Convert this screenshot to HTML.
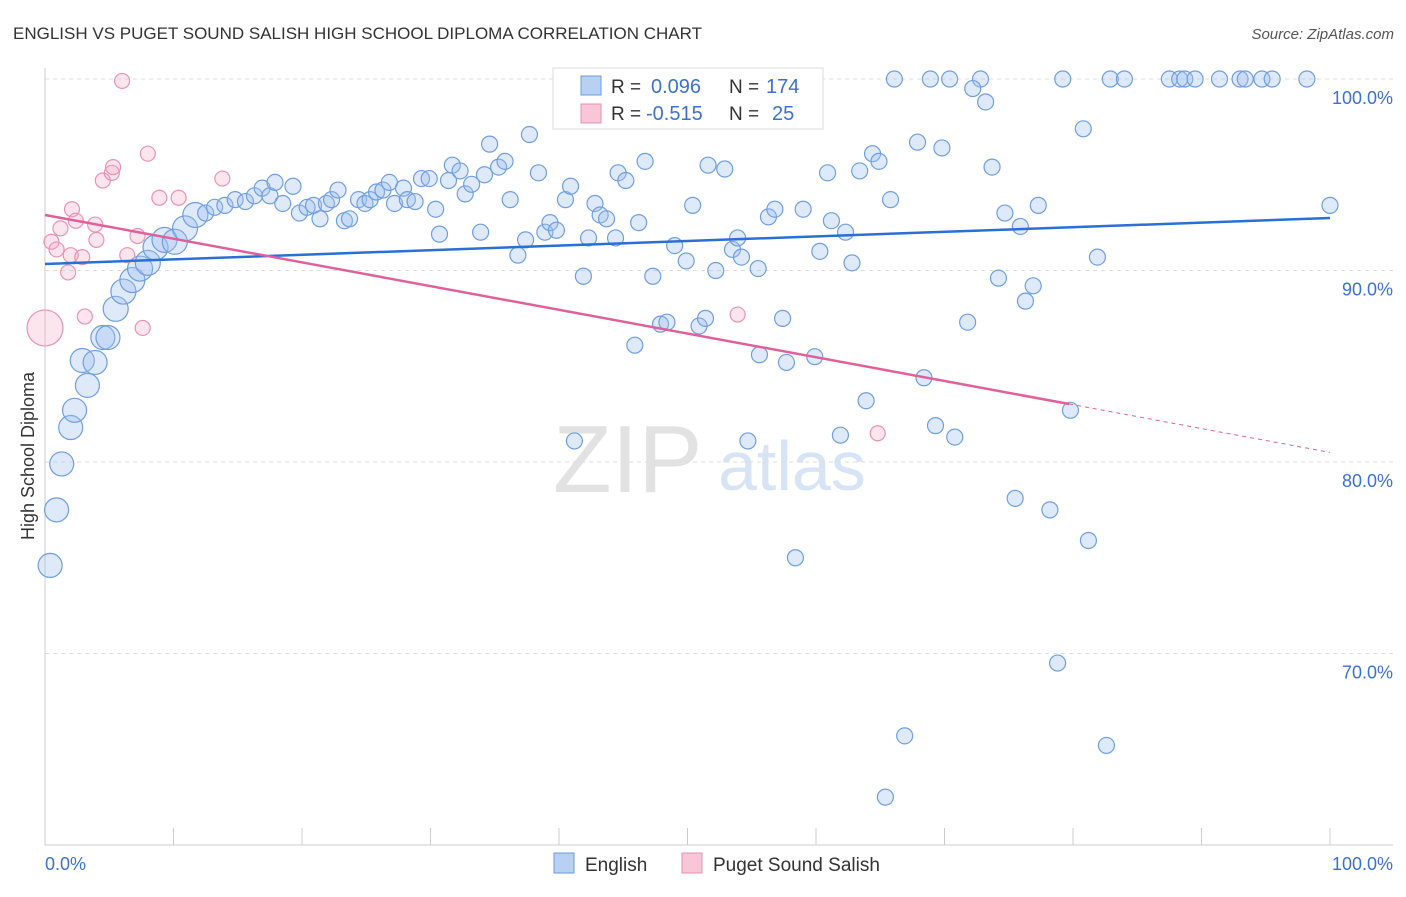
<!DOCTYPE html>
<html><head><meta charset="utf-8"><style>
body{margin:0;background:#fff;font-family:"Liberation Sans",sans-serif;}
svg text{font-family:"Liberation Sans",sans-serif;}
</style></head><body>
<svg id="c" width="1406" height="892" xmlns="http://www.w3.org/2000/svg">
<text x="13" y="39" font-size="17" fill="#333">ENGLISH VS PUGET SOUND SALISH HIGH SCHOOL DIPLOMA CORRELATION CHART</text>
<text x="1394" y="39" font-size="15" fill="#555" text-anchor="end" font-style="italic">Source: ZipAtlas.com</text>
<g>
<text x="553" y="492" font-size="96" fill="#e2e2e2" font-family="Liberation Serif, serif">ZIP</text>
<text x="718" y="490" font-size="70" fill="#d6e4f5">atlas</text>
</g>
<g id="grid"></g>
<g id="axes"></g>
<g id="pts"></g>
<g id="trends"></g>
<text transform="translate(34,456) rotate(-90)" font-size="18" fill="#333" text-anchor="middle">High School Diploma</text>
<text x="45" y="870" font-size="18" fill="#3a72d0">0.0%</text>
<text x="1393" y="870" font-size="18" fill="#3a72d0" text-anchor="end">100.0%</text>
<g>
<rect x="553" y="68" width="270" height="61" fill="#fff" stroke="#ddd"/>
<rect x="581" y="76" width="20" height="19" fill="#b8d0f2" stroke="#6a9be0"/>
<rect x="581" y="104" width="20" height="19" fill="#f8c6d6" stroke="#e890b0"/>
<text x="611" y="93" font-size="19" fill="#333">R = </text><text x="651" y="93" font-size="20" fill="#3a72d0">0.096</text>
<text x="729" y="93" font-size="19" fill="#333">N = </text><text x="766" y="93" font-size="20" fill="#3a72d0">174</text>
<text x="611" y="120" font-size="19" fill="#333">R = </text><text x="646" y="120" font-size="20" fill="#3a72d0">-0.515</text>
<text x="729" y="120" font-size="19" fill="#333">N = </text><text x="772" y="120" font-size="20" fill="#3a72d0">25</text>
</g>
<g>
<rect x="554" y="853" width="20" height="20" fill="#b8d0f2" stroke="#6a9be0"/>
<text x="585" y="871" font-size="19" fill="#333">English</text>
<rect x="682" y="853" width="20" height="20" fill="#f8c6d6" stroke="#e890b0"/>
<text x="713" y="871" font-size="19" fill="#333">Puget Sound Salish</text>
</g>
</svg>
<script>
const yTicks=[100,90,80,70];
const yTickLabels=["100.0%","90.0%","80.0%","70.0%"];
const xTicks=[0,10,20,30,40,50,60,70,80,90,100];
const engX=[66.1,68.9,70.4,72.8,79.2,82.9,84.0,87.5,88.3,88.7,89.5,91.4,93.0,93.4,94.7,95.5,98.2,72.2,73.2,80.8,0.4,0.9,1.3,2.0,2.3,3.3,2.9,3.9,4.5,4.9,5.5,6.1,6.8,7.4,8.0,8.6,9.3,10.1,10.9,11.7,12.5,13.2,14.0,14.8,15.6,16.3,16.9,17.5,17.9,18.5,19.3,19.8,20.4,20.9,21.4,21.9,22.3,22.8,23.3,23.7,24.4,24.9,25.3,25.8,26.3,26.8,27.2,27.9,28.2,28.8,29.3,29.9,30.4,30.7,31.4,31.7,32.3,32.7,33.2,33.9,34.2,34.6,35.3,35.8,36.2,36.8,37.4,37.7,38.4,38.9,39.3,39.8,40.5,40.9,41.2,41.9,42.3,42.8,43.2,43.7,44.4,44.6,45.2,45.9,46.2,46.7,47.3,47.9,48.4,49.0,49.4,49.9,50.4,50.9,51.4,51.6,52.2,52.9,53.5,53.9,54.2,54.7,55.5,55.6,56.3,56.8,57.4,57.7,58.4,59.0,59.4,59.9,60.3,60.9,61.2,61.9,62.3,62.8,63.4,63.9,64.4,64.9,65.4,65.8,66.9,67.9,68.4,69.3,69.8,70.8,71.8,73.7,74.2,74.7,75.5,75.9,76.3,76.9,77.3,78.2,78.8,79.8,81.2,81.9,82.6,100];
const engY=[100,100,100,100,100,100,100,100,100,100,100,100,100,100,100,100,100,99.5,98.8,97.4,74.6,77.5,79.9,81.8,82.7,84.0,85.3,85.2,86.5,86.5,88.0,88.9,89.5,90.1,90.4,91.2,91.6,91.5,92.2,92.9,93.0,93.3,93.4,93.7,93.6,93.9,94.3,93.9,94.6,93.5,94.4,93.0,93.3,93.4,92.7,93.5,93.7,94.2,92.6,92.7,93.7,93.5,93.7,94.1,94.2,94.6,93.5,94.3,93.7,93.6,94.8,94.8,93.2,91.9,94.7,95.5,95.2,94.0,94.5,92.0,95.0,96.6,95.4,95.7,93.7,90.8,91.6,97.1,95.1,92.0,92.5,92.1,93.7,94.4,81.1,89.7,91.7,93.5,92.9,92.7,91.7,95.1,94.7,86.1,92.5,95.7,89.7,87.2,87.3,91.3,98.0,90.5,93.4,87.1,87.5,95.5,90.0,95.3,91.1,91.7,90.7,81.1,90.1,85.6,92.8,93.2,87.5,85.2,75.0,93.2,98.0,85.5,91.0,95.1,92.6,81.4,92.0,90.4,95.2,83.2,96.1,95.7,62.5,93.7,65.7,96.7,84.4,81.9,96.4,81.3,87.3,95.4,89.6,93.0,78.1,92.3,88.4,89.2,93.4,77.5,69.5,82.7,75.9,90.7,65.2,93.4];
const engBig=[0.4,0.9,1.3,2.0,2.3,3.3,2.9,3.9,4.5,4.9,5.5,6.1,6.8,7.4,8.0,8.6,9.3,10.1,10.9,11.7];
const pugX=[0,0.5,0.9,1.2,1.8,2.0,2.1,2.4,2.9,3.1,3.9,4.0,4.5,5.2,5.3,6.0,6.4,7.2,7.6,8.0,8.9,10.4,13.8,53.9,64.8];
const pugY=[87.0,91.5,91.1,92.2,89.9,90.8,93.2,92.6,90.7,87.6,92.4,91.6,94.7,95.1,95.4,99.9,90.8,91.8,87.0,96.1,93.8,93.8,94.8,87.7,81.5];
const engTrend=[90.34,92.74];
const pugTrend=[92.9,83.03,80.5];
const pugSolidEnd=79.7;

const X0=45,X1=1330,Y100=79,PPU=19.15;
const sx=v=>X0+(X1-X0)*v/100;
const sy=v=>Y100+(100-v)*PPU;
const NS="http://www.w3.org/2000/svg";
function mk(t,a,p){const e=document.createElementNS(NS,t);for(const k in a)e.setAttribute(k,a[k]);p.appendChild(e);return e;}
const grid=document.getElementById('grid'),axes=document.getElementById('axes'),pts=document.getElementById('pts'),tr=document.getElementById('trends');
yTicks.forEach((t,i)=>{
 const l=mk('line',{x1:45,x2:1393,y1:sy(t),y2:sy(t),stroke:'#ddd','stroke-dasharray':'4,4'},grid);
 
 
 const tx=mk('text',{x:1393,y:sy(t)+25,'font-size':18,fill:'#3a72d0','text-anchor':'end'},grid);
 tx.textContent=yTickLabels[i];
 
 
});
const ax=mk('line',{x1:45,x2:45,y1:68,y2:845,stroke:'#ccc'},axes);


const bx=mk('line',{x1:45,x2:1393,y1:845,y2:845,stroke:'#ccc'},axes);


xTicks.forEach(t=>{
 const l=mk('line',{x1:sx(t),x2:sx(t),y1:828,y2:845,stroke:'#ccc'},axes);
 
 
});
engX.forEach((x,i)=>{
 const big=i>=20&&i<40;
 const r=big?(i<30?12:12.5):8;
 const c=mk('circle',{cx:sx(x),cy:sy(engY[i]),r:r,fill:'rgba(160,192,238,0.35)',stroke:'#6f9fe2','stroke-width':1.2},pts);
 
 
});
pugX.forEach((x,i)=>{
 const r=i==0?18:7.5;
 const c=mk('circle',{cx:sx(x),cy:sy(pugY[i]),r:r,fill:'rgba(245,170,196,0.3)',stroke:'#ea92b3','stroke-width':1.2},pts);
 
 
});
const el=mk('line',{x1:sx(0),y1:sy(engTrend[0]),x2:sx(100),y2:sy(engTrend[1]),stroke:'#2a6fd6','stroke-width':2.5},tr);


const pl=mk('line',{x1:sx(0),y1:sy(pugTrend[0]),x2:sx(pugSolidEnd),y2:sy(pugTrend[1]),stroke:'#e0609a','stroke-width':2.5},tr);


const pd=mk('line',{x1:sx(pugSolidEnd),y1:sy(pugTrend[1]),x2:sx(100),y2:sy(pugTrend[2]),stroke:'#e0609a','stroke-width':1,'stroke-dasharray':'4,4'},tr);


</script>
</body></html>
